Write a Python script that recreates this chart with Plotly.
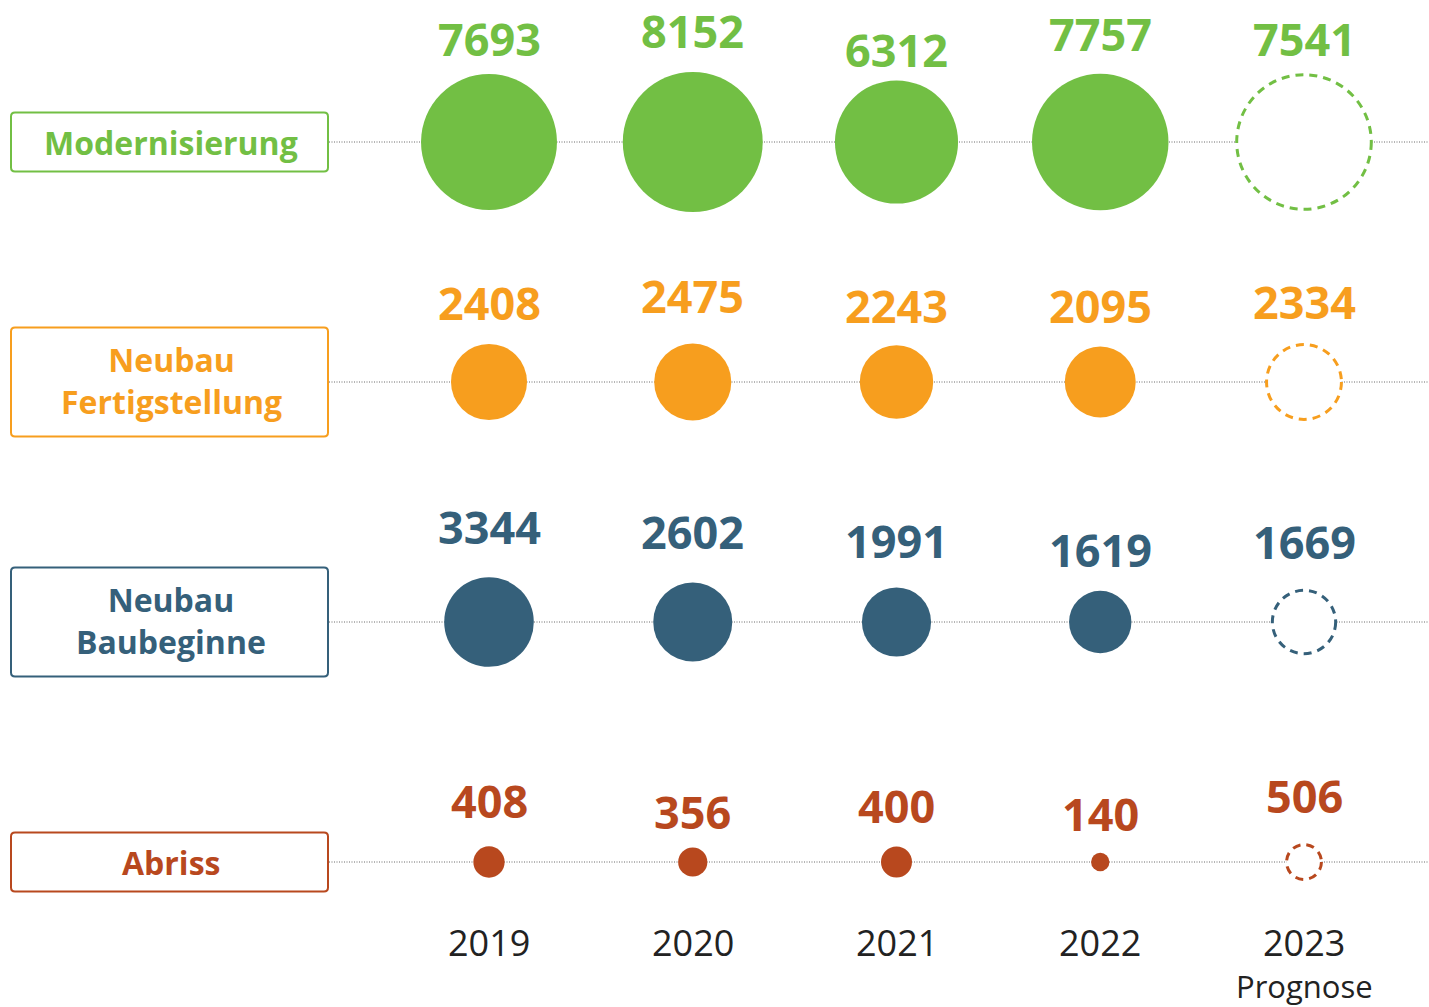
import math
import plotly.graph_objects as go

# ---------------- data ----------------
years = ["2019", "2020", "2021", "2022", "2023"]
year_notes = ["", "", "", "", "Prognose"]
row_labels = ["Modernisierung", "Neubau<br>Fertigstellung", "Neubau<br>Baubeginne", "Abriss"]
modernisierung = [7693, 8152, 6312, 7757, 7541]
neubau_fertigstellung = [2408, 2475, 2243, 2095, 2334]
neubau_baubeginne = [3344, 2602, 1991, 1619, 1669]
abriss = [408, 356, 400, 140, 506]
forecast = [False, False, False, False, True]

# ---------------- styling / layout ----------------
series = [modernisierung, neubau_fertigstellung, neubau_baubeginne, abriss]
colors = ["#72BF44", "#F79E1E", "#35607A", "#B8481E"]
label_lift = [[104, 112, 93, 109, 104],
              [80, 87, 77, 77, 81],
              [96, 91, 82, 73, 81],
              [62, 51, 57, 49, 67]]
box_heights = [59, 109, 109, 59]
SIZEREF = 0.8325
W, H = 1429, 1007
COL0, COLSTEP = 489, 203.75
ROW0, ROWSTEP = 142, 240
FONT = "Open Sans"


def bubble_radius(v):
    # same mapping plotly uses for sizemode='area'
    return math.sqrt(v / 2.0 / SIZEREF)


def rounded_rect(x0, x1, y0, y1, r):
    return (f"M{x0 + r},{y0} L{x1 - r},{y0} Q{x1},{y0} {x1},{y0 + r} "
            f"L{x1},{y1 - r} Q{x1},{y1} {x1 - r},{y1} L{x0 + r},{y1} "
            f"Q{x0},{y1} {x0},{y1 - r} L{x0},{y0 + r} Q{x0},{y0} {x0 + r},{y0} Z")


fig = go.Figure()
shapes = []
annotations = []
xidx = list(range(len(years)))

for r, (vals, col) in enumerate(zip(series, colors)):
    # dotted guide line
    shapes.append(dict(type="line", xref="paper", x0=329 / W, x1=1, yref="y", y0=r, y1=r,
                       line=dict(color="#6a6a6a", width=1, dash="1px,1.5px"), layer="below"))
    # label box
    h = box_heights[r]
    shapes.append(dict(type="path", xref="paper", xsizemode="pixel", xanchor=0,
                       yref="y", ysizemode="pixel", yanchor=r,
                       path=rounded_rect(11, 328, -h / 2, h / 2, 4),
                       line=dict(color=col, width=2), fillcolor="white", layer="above"))
    annotations.append(dict(xref="paper", x=171 / W, yref="y", y=r, text=row_labels[r],
                            showarrow=False, xanchor="center", yanchor="middle",
                            yshift=2 if "<br>" in row_labels[r] else 0,
                            font=dict(family=FONT, size=32, color=col, weight=700)))
    # actual bubbles
    xs = [i for i in xidx if not forecast[i]]
    fig.add_trace(go.Scatter(
        x=xs, y=[r] * len(xs), mode="markers", hoverinfo="skip", showlegend=False,
        marker=dict(size=[vals[i] for i in xs], sizemode="area", sizeref=SIZEREF,
                    color=col, line=dict(width=0), opacity=1)))
    # forecast dashed circles
    for i in xidx:
        if forecast[i]:
            rad = bubble_radius(vals[i])
            shapes.append(dict(type="circle", xref="x", xsizemode="pixel", xanchor=i,
                               x0=-rad, x1=rad, yref="y", ysizemode="pixel", yanchor=r,
                               y0=-rad, y1=rad, fillcolor="white",
                               line=dict(color=col, width=3, dash="8px,6px"), layer="above"))
    # value labels
    for i in xidx:
        annotations.append(dict(x=i, y=r, xref="x", yref="y", text=f"{vals[i]}",
                                showarrow=False, xanchor="center", yanchor="middle",
                                yshift=label_lift[r][i],
                                font=dict(family=FONT, size=45, color=col, weight=700)))

# year labels
for i in xidx:
    annotations.append(dict(x=i, y=len(series) - 1, xref="x", yref="y", text=years[i],
                            showarrow=False, xanchor="center", yanchor="middle", yshift=-80,
                            font=dict(family=FONT, size=36, color="#222222")))
    if year_notes[i]:
        annotations.append(dict(x=i, y=len(series) - 1, xref="x", yref="y", text=year_notes[i],
                                showarrow=False, xanchor="center", yanchor="middle", yshift=-124,
                                borderpad=0,
                                font=dict(family=FONT, size=31, color="#222222")))

fig.update_layout(
    width=W, height=H, margin=dict(l=0, r=0, t=0, b=0),
    paper_bgcolor="white", plot_bgcolor="white",
    xaxis=dict(range=[-COL0 / COLSTEP, (W - COL0) / COLSTEP], visible=False, fixedrange=True),
    yaxis=dict(range=[(H - ROW0) / ROWSTEP, -ROW0 / ROWSTEP], visible=False, fixedrange=True),
    shapes=shapes, annotations=annotations, showlegend=False,
)

fig.write_html("out.html", config={"displayModeBar": False, "staticPlot": True},
               post_script="document.body.style.margin='0';document.body.style.overflow='hidden';")
